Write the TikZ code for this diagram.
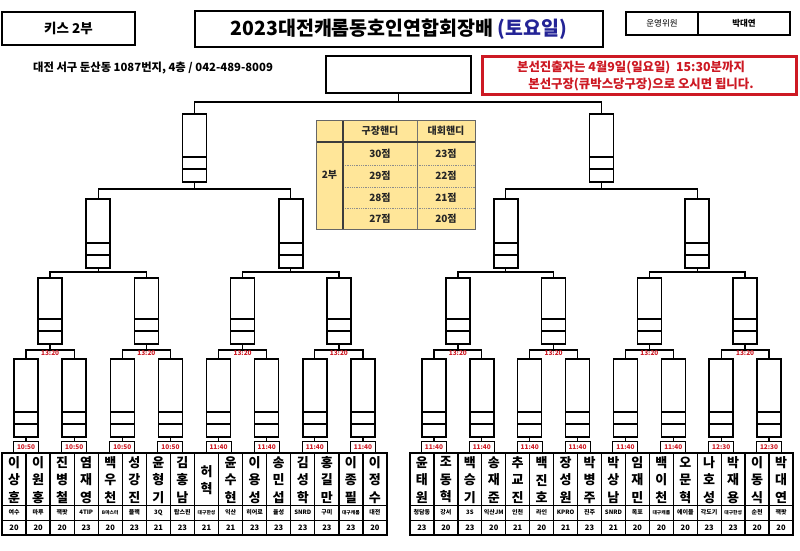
\documentclass[tikz,border=0pt]{standalone}
\usepackage{fontspec}
\setmainfont{Noto Sans CJK KR}
\definecolor{navyt}{RGB}{35,35,150}
\definecolor{redt}{RGB}{205,25,35}
\definecolor{yel}{RGB}{255,230,153}
\definecolor{tline}{RGB}{60,60,60}
\newcommand\myfs[1]{\fontsize{#1}{#1}\selectfont}
\newcommand\smcl[1]{{\myfs{4.8}#1}}
\begin{document}
\begin{tikzpicture}[x=1pt,y=-1pt,
  bx/.style={draw,line width=1.6pt,minimum width=24pt,minimum height=#1,inner sep=0pt,anchor=north,
    path picture={
      \draw[line width=1.4pt] ([yshift=13pt]path picture bounding box.south west) -- ([yshift=13pt]path picture bounding box.south east);
      \draw[line width=1.4pt] ([yshift=25pt]path picture bounding box.south west) -- ([yshift=25pt]path picture bounding box.south east);}},
  link/.style={line width=1.3pt},
  tl/.style={draw,line width=1.1pt,minimum width=25pt,minimum height=11pt,inner sep=0pt,anchor=south,text=redt,font=\bfseries\myfs{6.5}},
  hl/.style={anchor=north,inner sep=0.6pt,text=redt,font=\bfseries\myfs{6.5}},
  nm/.style={align=center,inner sep=0pt,font=\bfseries\fontsize{13}{17.5}\selectfont},
  cl/.style={inner sep=0pt,font=\bfseries\myfs{6}},
  sc/.style={inner sep=0pt,font=\bfseries\myfs{7.5}},
  yt/.style={inner sep=0pt,font=\bfseries\myfs{10},text=black!85}]
\useasboundingbox[fill=white] (0,0) rectangle (800,551);

% header
\node[draw,line width=1.5pt,minimum width=133pt,minimum height=33pt,inner sep=0pt] (kis) at (68.5,28.5) {\bfseries\myfs{13.5}키스 2부};
\node[draw,line width=2pt,minimum width=408pt,minimum height=36pt,inner sep=0pt] (title) at (399,29) {\bfseries\myfs{19.5}2023대전캐롬동호인연합회장배 \textcolor{navyt}{(토요일)}};
\node[draw,line width=1.3pt,minimum width=72pt,minimum height=23pt,inner sep=0pt] (staff1) at (662,23.5) {\myfs{8.5}운영위원};
\node[draw,line width=1.3pt,minimum width=92pt,minimum height=23pt,inner sep=0pt] (staff2) at (744,23.5) {\bfseries\myfs{8.5}박대연};
\node[anchor=west,inner sep=0pt,font=\bfseries\myfs{11.3}] (addr) at (33,68) {대전 서구 둔산동 1087번지, 4층 / 042-489-8009};
\node[draw,line width=1.5pt,minimum width=145pt,minimum height=37pt,inner sep=0pt] (final) at (398.5,74.5) {};
\node[draw=redt,line width=2.8pt,minimum width=314pt,minimum height=38pt,inner sep=0pt] (notice) at (639.5,75.5) {};
\node[inner sep=0pt,text=redt,font=\bfseries\myfs{12.4}] (n1) at (631,67.5) {본선진출자는 4월9일(일요일)\ \ 15:30분까지};
\node[inner sep=0pt,text=redt,font=\bfseries\myfs{12.4}] (n2) at (641,85) {본선구장(큐박스당구장)으로 오시면 됩니다.};

% handicap table
\fill[yel] (316,120) rectangle (475,229);
\foreach \yy in {165,187,208} \draw[black!45,densely dotted,line width=0.8pt] (343,\yy) -- (475,\yy);
\draw[black!55,line width=0.8pt] (417,120) -- (417,229);
\draw[tline,line width=1.3pt] (316,142) -- (475,142);
\draw[tline,line width=1.3pt] (343,120) -- (343,229);
\draw[black!60,line width=0.9pt] (316,120) rectangle (475,229);
\node[yt] (hA) at (380,131) {구장핸디};
\node[yt] (hB) at (446,131) {대회핸디};
\node[yt] (grp) at (329.5,175) {2부};
\foreach \r/\yy/\a/\b in {0/153.5/30/23,1/176/29/22,2/197.5/28/21,3/218.5/27/20}{
  \node[yt] (ga\r) at (380,\yy) {\a 점};
  \node[yt] (gb\r) at (446,\yy) {\b 점};
}

% bracket
\coordinate (H1) at (398.5,102);
\foreach \h/\s/\w in {0/2/24.0625,1/410/23.9375}{
  \node[bx=68pt] (L2-\h) at ({\s+8*\w},113) {};
  \coordinate (H2-\h) at ({\s+8*\w},189);
  \foreach \k in {0,1}{
    \node[bx=69pt] (L3-\h-\k) at ({\s+(8*\k+4)*\w},198) {};
    \coordinate (H3-\h-\k) at ({\s+(8*\k+4)*\w},272);
  }
  \foreach \k in {0,...,3}{
    \node[bx=66pt] (L4-\h-\k) at ({\s+(4*\k+2)*\w},277) {};
    \coordinate (H4-\h-\k) at ({\s+(4*\k+2)*\w},350);
  }
  \foreach \k in {0,...,7}{
    \node[bx=78pt] (L5-\h-\k) at ({\s+(2*\k+1)*\w},358) {};
  }
  % connectors
  \draw[link] (L3-\h-0.north) |- (H2-\h) -| (L3-\h-1.north);
  \draw[link] (L2-\h.south) -- (H2-\h);
  \foreach \k in {0,1}{
    \pgfmathtruncatemacro\ia{2*\k}
    \pgfmathtruncatemacro\ib{2*\k+1}
    \draw[link] (L4-\h-\ia.north) |- (H3-\h-\k) -| (L4-\h-\ib.north);
    \draw[link] (L3-\h-\k.south) -- (H3-\h-\k);
  }
  \foreach \k in {0,...,3}{
    \pgfmathtruncatemacro\ia{2*\k}
    \pgfmathtruncatemacro\ib{2*\k+1}
    \draw[link] (L5-\h-\ia.north) |- (H4-\h-\k) -| (L5-\h-\ib.north);
    \draw[link] (L4-\h-\k.south) -- (H4-\h-\k);
    \node[hl] (tt-\h-\k) at (H4-\h-\k) {13:20};
  }
  % player table grid
  \draw[line width=1.5pt] (\s,453) rectangle ({\s+16*\w},535);
  \foreach \j in {1,...,15} \draw[line width=1.3pt] ({\s+\j*\w},453) -- ({\s+\j*\w},535);
  \draw[line width=1pt] (\s,505) -- ({\s+16*\w},505);
  \draw[line width=1pt] (\s,520) -- ({\s+16*\w},520);
}
\draw[link] (L2-0.north) |- (H1) -| (L2-1.north);
\draw[link] (final.south) -- (H1);

% time labels
\foreach \k/\t in {0/10:50,1/10:50,2/10:50,3/10:50,4/11:40,5/11:40,6/11:40,7/11:40}{
  \node[tl] (T-0-\k) at ({2+(2*\k+1)*24.0625},453) {\t};
  \draw[link] (L5-0-\k.south) -- (T-0-\k.north);
}
\foreach \k/\t in {0/11:40,1/11:40,2/11:40,3/11:40,4/11:40,5/11:40,6/12:30,7/12:30}{
  \node[tl] (T-1-\k) at ({410+(2*\k+1)*23.9375},453) {\t};
  \draw[link] (L5-1-\k.south) -- (T-1-\k.north);
}

% players left
\foreach \j/\n/\c/\v in {0/{이\\상\\훈}/여수/20,1/{이\\원\\홍}/마루/20,2/{진\\병\\철}/잭팟/20,3/{염\\재\\영}/4TIP/23,
  4/{백\\우\\천}/\smcl{B마스터}/20,5/{성\\강\\진}/블랙/23,6/{윤\\형\\기}/3Q/21,7/{김\\홍\\남}/탑스핀/23,
  8/{허\\혁}/\smcl{대구한성}/21,9/{윤\\수\\현}/익산/21,10/{이\\용\\성}/히어로/23,11/{송\\민\\섭}/율성/23,
  12/{김\\성\\학}/SNRD/23,13/{홍\\길\\만}/구미/23,14/{이\\종\\필}/\smcl{대구캐롬}/23,15/{이\\정\\수}/대전/20}{
  \node[nm] (N-0-\j) at ({2+(\j+0.5)*24.0625},480) {\n};
  \node[cl] (C-0-\j) at ({2+(\j+0.5)*24.0625},512.5) {\c};
  \node[sc] (S-0-\j) at ({2+(\j+0.5)*24.0625},527.5) {\v};
}
% players right
\foreach \j/\n/\c/\v in {0/{윤\\태\\원}/청담동/23,1/{조\\동\\혁}/강서/20,2/{백\\승\\기}/3S/23,3/{송\\재\\준}/익산JM/20,
  4/{추\\교\\진}/인천/21,5/{백\\진\\호}/라인/20,6/{장\\성\\원}/KPRO/21,7/{박\\병\\주}/진주/23,
  8/{박\\상\\남}/SNRD/21,9/{임\\재\\민}/목포/20,10/{백\\이\\천}/\smcl{대구캐롬}/20,11/{오\\문\\혁}/에이블/20,
  12/{나\\호\\성}/각도기/23,13/{박\\재\\용}/\smcl{대구한성}/23,14/{이\\동\\식}/순천/20,15/{박\\대\\연}/잭팟/20}{
  \node[nm] (N-1-\j) at ({410+(\j+0.5)*23.9375},480) {\n};
  \node[cl] (C-1-\j) at ({410+(\j+0.5)*23.9375},512.5) {\c};
  \node[sc] (S-1-\j) at ({410+(\j+0.5)*23.9375},527.5) {\v};
}
\end{tikzpicture}
\end{document}
